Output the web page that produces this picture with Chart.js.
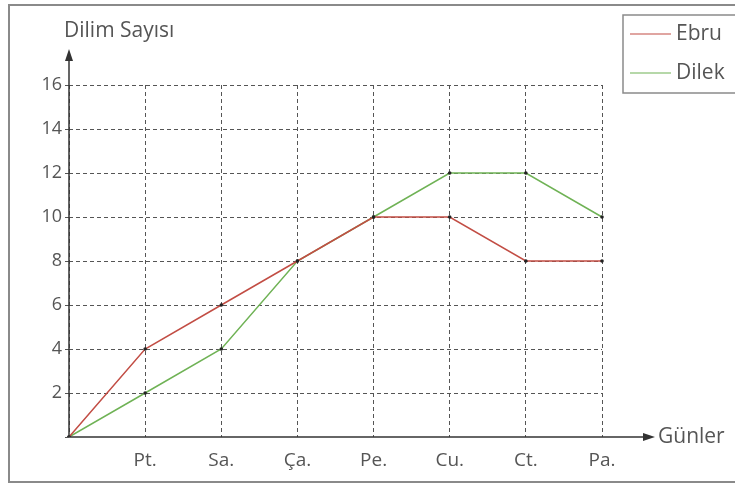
<!DOCTYPE html>
<html lang="tr">
<head>
<meta charset="utf-8">
<script src="https://cdn.jsdelivr.net/npm/chart.js@4"></script>
<style>
  html, body { margin: 0; padding: 0; background: #fff; }
  #wrap { width: 735px; height: 484px; position: relative; }
</style>
</head>
<body>
<div id="wrap"><canvas id="jsDilimCanvas" width="735" height="484"></canvas></div>
<script>
// chart data
const days = ["", "Pt.", "Sa.", "Ça.", "Pe.", "Cu.", "Ct.", "Pa."];
const ebru = [0, 4, 6, 8, 10, 10, 8, 8];
const dilek = [0, 2, 4, 8, 10, 12, 12, 10];
const yTicks = [2, 4, 6, 8, 10, 12, 14, 16];

const FONT = "'Open Sans', 'Noto Sans', sans-serif";
const TEXT = "#555";
const AXIS = "#333";

// axes with arrows, titles, frame and boxed legend
const decorPlugin = {
  id: "decor",
  afterDraw(chart) {
    const ctx = chart.ctx;
    const { left, right, top, bottom } = chart.chartArea;
    ctx.save();

    // outer frame
    ctx.strokeStyle = "#8a8a8a";
    ctx.lineWidth = 2;
    ctx.strokeRect(9, 5, 740, 477);

    // y axis + arrow
    ctx.strokeStyle = AXIS;
    ctx.fillStyle = AXIS;
    ctx.lineWidth = 1.5;
    ctx.beginPath();
    ctx.moveTo(left, bottom);
    ctx.lineTo(left, top - 28);
    ctx.stroke();
    ctx.beginPath();
    ctx.moveTo(left, top - 36);
    ctx.lineTo(left - 4, top - 24);
    ctx.lineTo(left + 4, top - 24);
    ctx.closePath();
    ctx.fill();

    // x axis + arrow
    ctx.beginPath();
    ctx.moveTo(left, bottom);
    ctx.lineTo(right + 44, bottom);
    ctx.stroke();
    ctx.beginPath();
    ctx.moveTo(right + 53, bottom);
    ctx.lineTo(right + 41, bottom - 4);
    ctx.lineTo(right + 41, bottom + 4);
    ctx.closePath();
    ctx.fill();

    // axis titles
    ctx.fillStyle = TEXT;
    ctx.font = "21px " + FONT;
    ctx.textBaseline = "middle";
    ctx.textAlign = "left";
    ctx.fillText("Dilim Sayısı", left - 5, 31);
    ctx.fillText("Günler", right + 56, bottom);

    // legend box
    const lx = 623, ly = 15;
    ctx.strokeStyle = "#8a8a8a";
    ctx.lineWidth = 1.5;
    ctx.strokeRect(lx, ly, 130, 78);
    chart.data.datasets.forEach((ds, i) => {
      const y = ly + 19 + i * 39;
      ctx.strokeStyle = ds.borderColor;
      ctx.lineWidth = 1.2;
      ctx.beginPath();
      ctx.moveTo(lx + 7, y);
      ctx.lineTo(lx + 48, y);
      ctx.stroke();
      ctx.fillStyle = TEXT;
      ctx.fillText(ds.label, lx + 53, y);
    });

    ctx.restore();
  },
};

const dilimChart = () => {
  const canvas = document.getElementById("jsDilimCanvas").getContext("2d");

  new Chart(canvas, {
    type: "line",
    data: {
      labels: days,
      datasets: [
        {
          label: "Ebru",
          data: ebru,
          borderColor: "#c24d44",
          backgroundColor: "#c24d44",
          borderWidth: 1.5,
          pointRadius: 1.8,
          pointBackgroundColor: "#222",
          pointBorderWidth: 0,
          tension: 0,
        },
        {
          label: "Dilek",
          data: dilek,
          borderColor: "#6fb255",
          backgroundColor: "#6fb255",
          borderWidth: 1.5,
          pointRadius: 1.8,
          pointBackgroundColor: "#222",
          pointBorderWidth: 0,
          tension: 0,
        },
      ],
    },
    options: {
      responsive: false,
      animation: false,
      layout: {
        padding: { left: 0, right: 133, top: 85, bottom: 0 },
      },
      plugins: {
        legend: { display: false },
        tooltip: { enabled: false },
      },
      scales: {
        x: {
          offset: false,
          afterFit: (scale) => { scale.height = 47; },
          grid: {
            color: "#555",
            lineWidth: 1,
            drawTicks: false,
          },
          border: { display: false, dash: [4, 3] },
          ticks: {
            color: TEXT,
            padding: 12,
            font: { family: FONT, size: 19 },
            maxRotation: 0,
          },
        },
        y: {
          min: 0,
          max: 16,
          afterFit: (scale) => { scale.width = 69; },
          afterBuildTicks: (scale) => {
            scale.ticks = [0].concat(yTicks).map((v) => ({ value: v }));
          },
          grid: {
            color: (c) => (c.tick && c.tick.value === 0 ? "rgba(0,0,0,0)" : "#555"),
            lineWidth: 1,
            tickLength: 4,
            tickColor: "#555",
          },
          border: { display: false, dash: [4, 3] },
          ticks: {
            color: TEXT,
            padding: 3,
            font: { family: FONT, size: 18 },
            callback: (value) => (value === 0 ? "" : value),
          },
        },
      },
    },
    plugins: [decorPlugin],
  });
};

window.addEventListener("DOMContentLoaded", () => {
  dilimChart();
});
</script>
</body>
</html>
